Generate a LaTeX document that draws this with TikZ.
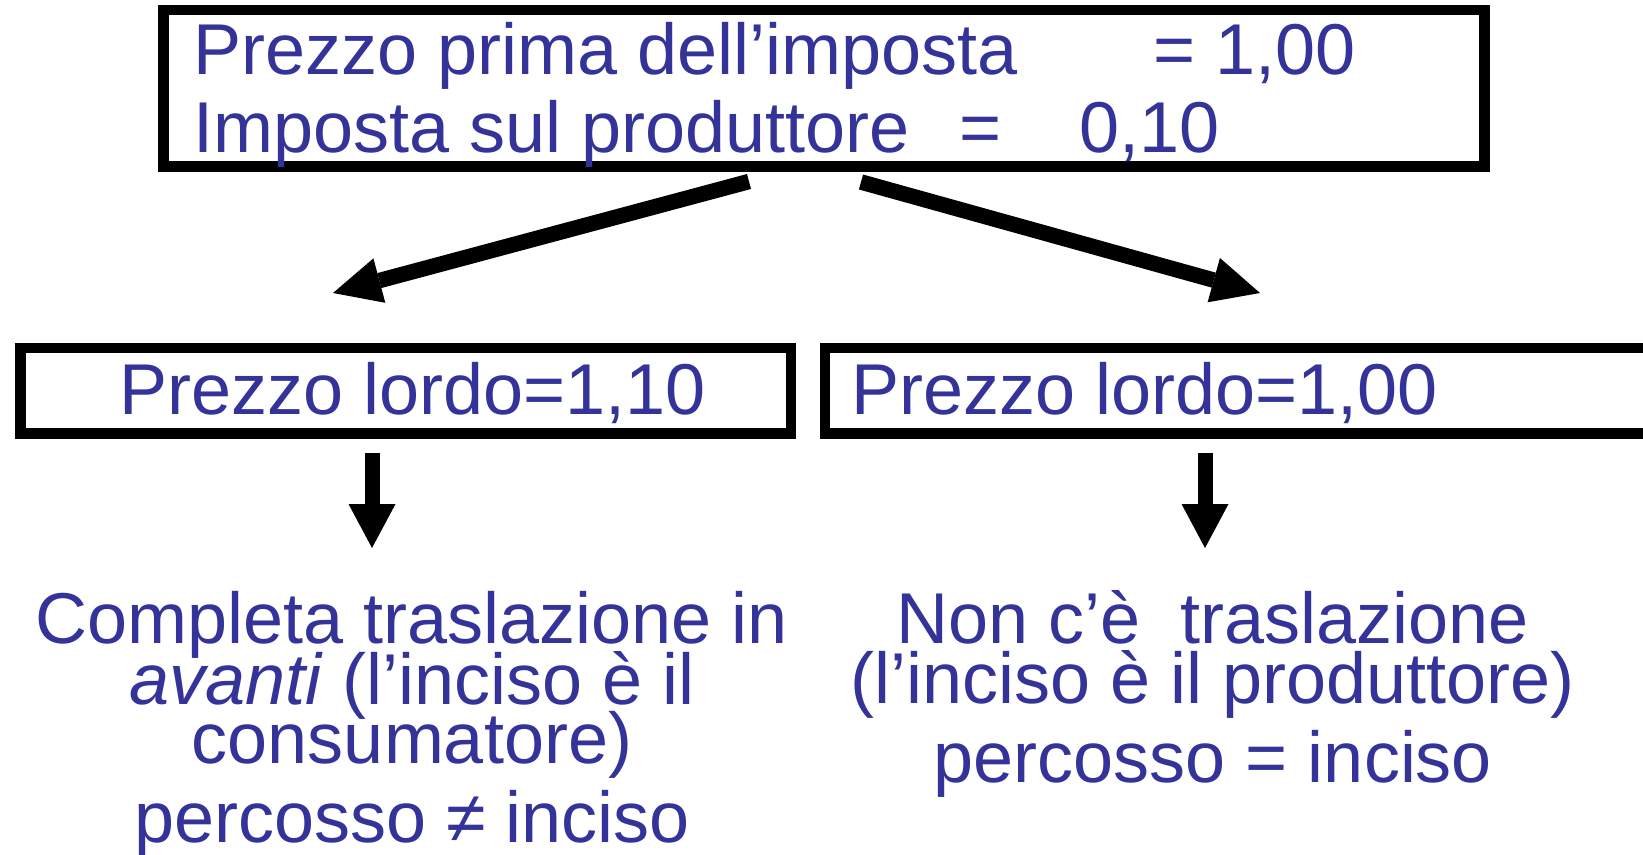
\documentclass[tikz,border=0pt]{standalone}
\usepackage{fontspec}
\setmainfont{Liberation Sans}
\usetikzlibrary{arrows.meta}
\definecolor{txt}{HTML}{333399}
\begin{document}
\begin{tikzpicture}[x=1pt,y=-1pt,
  box/.style={draw=black, line width=10.7pt, inner sep=0pt, fill=white},
  lbl/.style={text=txt, font=\fontsize{72}{72}\selectfont, inner sep=0pt, anchor=base west},
  ctr/.style={text=txt, font=\fontsize{72}{72}\selectfont, inner sep=0pt, anchor=base},
  bigarrow/.style={line width=15.5pt, -{Triangle[length=48pt,width=46pt,line width=0pt]}},
  downarrow/.style={line width=15pt, -{Triangle[length=44pt,width=47pt,line width=0pt]}}]
\useasboundingbox (0,0) rectangle (1643,854);
\fill[white] (0,0) rectangle (1643,854);
\clip (0,0) rectangle (1643,854);
% boxes
\node[box, minimum width=1320.7pt, minimum height=156.2pt] (top) at (824.15,88.1) {};
\node[box, minimum width=770.3pt, minimum height=85.3pt] (lbox) at (405.85,390.65) {};
\node[box, minimum width=875pt, minimum height=85.3pt] (rbox) at (1262.5,390.65) {};
% top texts
\node[lbl] (t1a) at (193,74) {Prezzo prima dell’imposta};
\node[lbl] (t1b) at (1153,74) {= 1,00};
\node[lbl] (t2a) at (193,152) {Imposta sul produttore};
\node[lbl] (t2b) at (959,152) {=};
\node[lbl] (t2c) at (1079,152) {0,10};
% box texts
\node[lbl] (lt) at (119,414) {Prezzo lordo=1,10};
\node[lbl] (rt) at (851,414) {Prezzo lordo=1,00};
% arrows
\coordinate (la0) at (749,181.5);
\coordinate (la1) at (333,293);
\coordinate (ra0) at (861,182);
\coordinate (ra1) at (1260,293);
\coordinate (ld0) at (372,453);
\coordinate (ld1) at (372,548);
\coordinate (rd0) at (1205,453);
\coordinate (rd1) at (1205,548);
\draw[bigarrow] (la0) -- (la1);
\draw[bigarrow] (ra0) -- (ra1);
\draw[downarrow] (ld0) -- (ld1);
\draw[downarrow] (rd0) -- (rd1);
% bottom left texts
\node[ctr] (l1) at (412,643) {Completa traslazione in};
\node[ctr] (l2) at (412,704) {\textit{avanti} (l’inciso è il};
\node[ctr] (l3) at (412,763) {consumatore)};
\node[ctr] (l4) at (412,842) {percosso ≠ inciso};
% bottom right texts
\node[ctr] (r1) at (1213,643) {Non c’è~ traslazione};
\node[ctr] (r2) at (1213,703) {(l’inciso è il produttore)};
\node[ctr] (r3) at (1213,782) {percosso = inciso};
\end{tikzpicture}
\end{document}
